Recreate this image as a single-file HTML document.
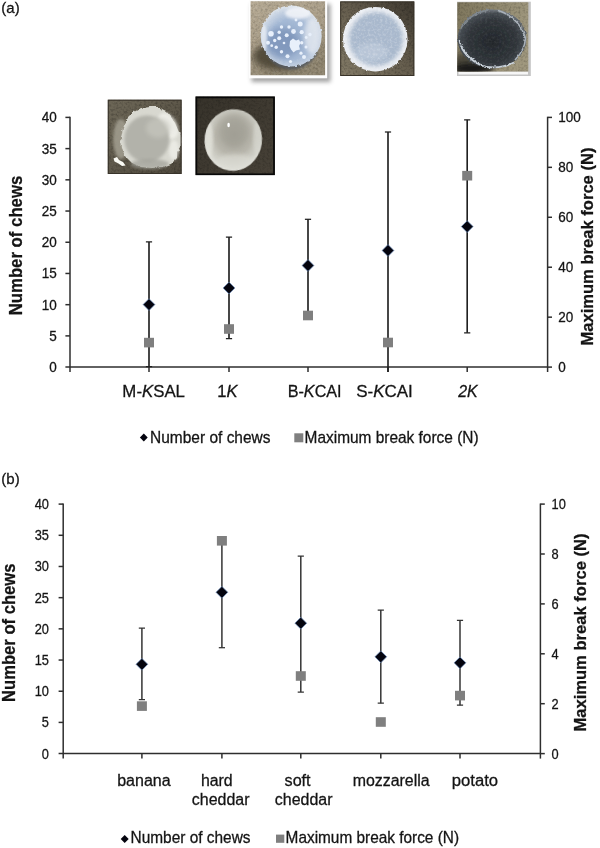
<!DOCTYPE html>
<html><head><meta charset="utf-8"><title>Figure</title>
<style>html,body{margin:0;padding:0;background:#fff;}body{width:600px;height:848px;overflow:hidden;font-family:"Liberation Sans",sans-serif;}svg{display:block;}text{font-family:"Liberation Sans",sans-serif;fill:#141414;stroke:#141414;stroke-width:0.28px;}svg{-webkit-font-smoothing:antialiased;}</style></head><body>
<svg width="600" height="848" viewBox="0 0 600 848">
<defs>
<filter id="b05" x="-10%" y="-10%" width="120%" height="120%"><feGaussianBlur stdDeviation="0.5"/></filter>
<filter id="b1" x="-10%" y="-10%" width="120%" height="120%"><feGaussianBlur stdDeviation="1"/></filter>
<filter id="b15" x="-20%" y="-20%" width="140%" height="140%"><feGaussianBlur stdDeviation="1.5"/></filter>
<filter id="b2" x="-20%" y="-20%" width="140%" height="140%"><feGaussianBlur stdDeviation="2"/></filter>
<filter id="b3" x="-30%" y="-30%" width="160%" height="160%"><feGaussianBlur stdDeviation="3"/></filter>
<filter id="b4" x="-30%" y="-30%" width="160%" height="160%"><feGaussianBlur stdDeviation="4"/></filter>
<clipPath id="c1"><rect x="107.8" y="99.7" width="73.8" height="74.3"/></clipPath>
<clipPath id="c2"><rect x="195.6" y="96.6" width="79.2" height="78.5"/></clipPath>
<clipPath id="c3"><rect x="250.6" y="1.3" width="74.5" height="74"/></clipPath>
<clipPath id="c4"><rect x="340.2" y="1.4" width="74.1" height="74.6"/></clipPath>
<clipPath id="c5"><rect x="457.3" y="2.2" width="71" height="69.3"/></clipPath>
<radialGradient id="g1" cx="0.47" cy="0.53" r="0.55"><stop offset="0" stop-color="#b0b0a8"/><stop offset="0.6" stop-color="#b8b8b0"/><stop offset="0.8" stop-color="#d4d4cc"/><stop offset="1" stop-color="#ecece6"/></radialGradient>
<linearGradient id="bg1" x1="0" y1="0" x2="1" y2="1"><stop offset="0" stop-color="#6e6858"/><stop offset="0.5" stop-color="#5e584a"/><stop offset="1" stop-color="#4e483c"/></linearGradient>
<radialGradient id="g2" cx="0.5" cy="0.42" r="0.58"><stop offset="0" stop-color="#aaa89e"/><stop offset="0.55" stop-color="#b8b6ac"/><stop offset="0.82" stop-color="#d0d0c8"/><stop offset="1" stop-color="#e6e6e0"/></radialGradient>
<linearGradient id="bg2" x1="0" y1="0" x2="1" y2="1"><stop offset="0" stop-color="#36322a"/><stop offset="1" stop-color="#484238"/></linearGradient>
<radialGradient id="g3" cx="0.5" cy="0.55" r="0.55"><stop offset="0" stop-color="#9ab0ce"/><stop offset="0.6" stop-color="#a6bad6"/><stop offset="0.85" stop-color="#c6d2e2"/><stop offset="1" stop-color="#dfe5ec"/></radialGradient>
<linearGradient id="bg3" x1="0" y1="0" x2="0.4" y2="1"><stop offset="0" stop-color="#b6aa94"/><stop offset="0.55" stop-color="#a89c86"/><stop offset="1" stop-color="#8e846e"/></linearGradient>
<radialGradient id="g4" cx="0.5" cy="0.45" r="0.55"><stop offset="0" stop-color="#a6b6ca"/><stop offset="0.55" stop-color="#b0bfd2"/><stop offset="0.8" stop-color="#d2dbe6"/><stop offset="1" stop-color="#eef1f5"/></radialGradient>
<linearGradient id="bg4" x1="0" y1="1" x2="1" y2="0"><stop offset="0" stop-color="#847c68"/><stop offset="0.5" stop-color="#665e4e"/><stop offset="1" stop-color="#3e382f"/></linearGradient>
<radialGradient id="g5" cx="0.5" cy="0.55" r="0.55"><stop offset="0" stop-color="#23272b"/><stop offset="0.65" stop-color="#30353a"/><stop offset="0.88" stop-color="#454b51"/><stop offset="1" stop-color="#7a8086"/></radialGradient>
<linearGradient id="bg5" x1="0" y1="0" x2="1" y2="0.3"><stop offset="0" stop-color="#7e765c"/><stop offset="1" stop-color="#a0987e"/></linearGradient>
<filter id="rough" x="-10%" y="-10%" width="120%" height="120%"><feTurbulence type="fractalNoise" baseFrequency="0.22" numOctaves="2" seed="3" result="n"/><feDisplacementMap in="SourceGraphic" in2="n" scale="4.5" xChannelSelector="R" yChannelSelector="G"/><feGaussianBlur stdDeviation="0.6"/></filter>
<filter id="rough2" x="-10%" y="-10%" width="120%" height="120%"><feTurbulence type="fractalNoise" baseFrequency="0.35" numOctaves="2" seed="8" result="n"/><feDisplacementMap in="SourceGraphic" in2="n" scale="3" xChannelSelector="R" yChannelSelector="G"/><feGaussianBlur stdDeviation="0.55"/></filter>
<filter id="noise" x="0" y="0" width="100%" height="100%"><feTurbulence type="fractalNoise" baseFrequency="0.37" numOctaves="2" seed="5"/><feColorMatrix type="matrix" values="0 0 0 0 0.5  0 0 0 0 0.5  0 0 0 0 0.5  1.6 0 0 0 -0.55"/><feGaussianBlur stdDeviation="0.4"/></filter>
<filter id="noisew" x="0" y="0" width="100%" height="100%"><feTurbulence type="fractalNoise" baseFrequency="0.41" numOctaves="2" seed="11"/><feColorMatrix type="matrix" values="0 0 0 0 1  0 0 0 0 1  0 0 0 0 1  0 2.2 0 0 -0.95"/><feGaussianBlur stdDeviation="0.4"/></filter>
<filter id="noised" x="0" y="0" width="100%" height="100%"><feTurbulence type="fractalNoise" baseFrequency="0.43" numOctaves="2" seed="21"/><feColorMatrix type="matrix" values="0 0 0 0 0  0 0 0 0 0  0 0 0 0 0  0 0 2.2 0 -0.95"/><feGaussianBlur stdDeviation="0.4"/></filter>
<clipPath id="d3"><circle cx="291.2" cy="36" r="30.3"/></clipPath>
<clipPath id="d4"><circle cx="375.6" cy="39.6" r="32"/></clipPath>
<clipPath id="d5"><ellipse cx="492" cy="38.8" rx="34.2" ry="29.4"/></clipPath>
<clipPath id="d2"><ellipse cx="233.3" cy="140" rx="28.7" ry="30.8" transform="rotate(8 233.3 140)"/></clipPath>
</defs>

<rect width="600" height="848" fill="#fff"/>
<!-- photo 3 (top, white frame + shadow) -->
<rect x="251.5" y="4" width="79" height="78" fill="#6a6a6a" opacity="0.62" filter="url(#b2)"/>
<rect x="248.9" y="-2" width="78.3" height="80.3" fill="#fdfdfd"/>
<g clip-path="url(#c3)">
<rect x="250" y="0" width="76" height="76" fill="url(#bg3)"/>
<rect x="250" y="0" width="76" height="75" filter="url(#noised)" opacity="0.18"/>
<rect x="250" y="0" width="76" height="75" filter="url(#noisew)" opacity="0.15"/>
<ellipse cx="280" cy="56" rx="27" ry="14" fill="#4c4436" opacity="0.9" filter="url(#b3)"/>
<path d="M264 48 Q270 68 291 69.5 Q310 69 319 50 Q300 66 264 48Z" fill="#565c64" opacity="0.85" filter="url(#b1)"/>
<circle cx="291.2" cy="36" r="30.5" fill="url(#g3)" filter="url(#rough2)"/>
<g clip-path="url(#d3)">
<ellipse cx="282" cy="43" rx="17" ry="15" fill="#6f88b0" opacity="0.62" filter="url(#b3)"/>
<ellipse cx="312" cy="36" rx="8" ry="18" fill="#e8ecf2" opacity="0.75" filter="url(#b2)"/>
<ellipse cx="298" cy="13" rx="13" ry="6" fill="#f4f6fa" opacity="0.85" filter="url(#b15)"/>
<ellipse cx="264" cy="38" rx="3" ry="13" fill="#eef2f8" opacity="0.7" filter="url(#b1)"/>
<g fill="#e8f0fb" filter="url(#b05)">
<path d="M290 41 L293 38.5 L296 40.5 L299 39.5 L300.5 43 L299 46 L300 49.5 L296 50.5 L293.5 52.5 L291 49.5 L289.5 46 Z"/>
<circle cx="300.2" cy="24" r="2.5"/><circle cx="293.5" cy="31.5" r="2.4"/><circle cx="301.7" cy="32.2" r="2.1"/><circle cx="289" cy="27" r="1.7"/>
<circle cx="281.5" cy="27" r="1.7"/><circle cx="271" cy="33.7" r="2.8"/><circle cx="279.2" cy="32.2" r="1.7"/><circle cx="286.7" cy="35.2" r="2"/>
<circle cx="279.2" cy="38.2" r="2"/><circle cx="274.7" cy="40.5" r="1.7"/><circle cx="268" cy="42.7" r="2"/><circle cx="271.7" cy="45.7" r="1.4"/>
<circle cx="276.2" cy="47.2" r="1.7"/><circle cx="281.5" cy="51.7" r="1.7"/><circle cx="287.5" cy="56.2" r="2"/><circle cx="301.7" cy="42.7" r="1.7"/>
<circle cx="304" cy="57" r="2"/><circle cx="301" cy="53.2" r="1.6"/><circle cx="290.5" cy="61.5" r="1.6"/><circle cx="310" cy="34.5" r="1.7"/><circle cx="306.2" cy="37.5" r="1.4"/>
<circle cx="284" cy="43" r="1.3"/><circle cx="296" cy="20" r="1.4"/><circle cx="306" cy="47" r="1.5"/>
</g>
</g>
</g>
<!-- photo 4 -->
<g clip-path="url(#c4)">
<rect x="340" y="1" width="75" height="76" fill="url(#bg4)"/>
<rect x="340" y="1" width="75" height="76" filter="url(#noised)" opacity="0.25"/>
<circle cx="375.3" cy="39.2" r="32.3" fill="#eceff4" filter="url(#rough2)"/>
<circle cx="376" cy="39" r="27" fill="#a9b9ce" filter="url(#b2)"/>
<ellipse cx="372" cy="52" rx="16" ry="9" fill="#c4d0e0" opacity="0.6" filter="url(#b2)"/>
<g clip-path="url(#d4)"><rect x="340" y="1" width="75" height="76" filter="url(#noisew)" opacity="0.3"/><rect x="340" y="1" width="75" height="76" filter="url(#noise)" opacity="0.1"/></g>
</g>
<rect x="340.7" y="1.9" width="73.1" height="73.6" fill="none" stroke="#383228" stroke-width="1"/>
<!-- photo 5 -->
<rect x="457" y="1.7" width="73.8" height="74.3" fill="#c4c4c4"/>
<rect x="458.5" y="71.5" width="69.5" height="3" fill="#f6f6f6"/>
<g clip-path="url(#c5)">
<rect x="457" y="2" width="72" height="70" fill="url(#bg5)"/>
<rect x="457" y="2" width="72" height="70" filter="url(#noised)" opacity="0.2"/>
<ellipse cx="468" cy="64" rx="16" ry="12" fill="#3e3a30" opacity="0.85" filter="url(#b3)"/>
<ellipse cx="474" cy="68.5" rx="20" ry="5" fill="#141416" opacity="0.9" filter="url(#b2)"/>
<ellipse cx="492" cy="38.8" rx="34.4" ry="29.6" fill="url(#g5)" filter="url(#rough2)"/>
<g clip-path="url(#d5)"><rect x="457" y="2" width="72" height="70" filter="url(#noisew)" opacity="0.08"/></g>
<path d="M459.5 40 Q462 57 484 66.5 Q500 69.5 514 62.5" fill="none" stroke="#c8d0d8" stroke-width="1.8" filter="url(#rough2)"/>
<path d="M498 10.5 Q519 17 525.5 38 Q525 50 515 60" fill="none" stroke="#a8b0b8" stroke-width="1.6" filter="url(#rough2)"/>
<path d="M460 30 Q468 14 488 10" fill="none" stroke="#80888e" stroke-width="1.3" filter="url(#rough2)"/>
</g>
<!-- photo 1 -->
<g clip-path="url(#c1)">
<rect x="107" y="99" width="76" height="76" fill="url(#bg1)"/>
<rect x="107" y="99" width="76" height="76" filter="url(#noised)" opacity="0.25"/>
<ellipse cx="121" cy="139" rx="8" ry="20" fill="#a09c8e" opacity="0.9" filter="url(#b15)"/>
<path d="M149 107 L158 107 L166 111 L171 117 L175 123 L178 130 L182 138 L181 146 L177 152 L177 158 L171 164 L162 167 L152 168 L141 167 L132 163 L126 157 L122 148 L121 138 L123 128 L127 119 L134 112 L141 108 Z" fill="#d8d8d0" filter="url(#rough)"/>
<ellipse cx="168" cy="126" rx="9" ry="14" transform="rotate(-30 168 126)" fill="#f2f2ec" opacity="0.8" filter="url(#b15)"/>
<ellipse cx="174" cy="150" rx="5" ry="10" fill="#f0f0ea" opacity="0.75" filter="url(#b15)"/>
<ellipse cx="146.8" cy="139" rx="22.5" ry="23.5" fill="#b2b2aa" filter="url(#b15)"/>
<ellipse cx="158" cy="128" rx="12" ry="10" fill="#c6c6be" opacity="0.7" filter="url(#b2)"/>
<ellipse cx="150" cy="164" rx="19" ry="5" fill="#a2a29a" opacity="0.75" filter="url(#b15)"/>
<path d="M113.5 158.5 L117 157 L119 160 L123 162 L125.5 165.5 L122 166 L118.5 163.5 L114.5 161.5 Z" fill="#fafaf4" filter="url(#b05)"/>
</g>
<rect x="108.3" y="100.2" width="72.8" height="73.3" fill="none" stroke="#38332a" stroke-width="1"/>
<!-- photo 2 -->
<g clip-path="url(#c2)">
<rect x="195" y="96" width="80" height="80" fill="url(#bg2)"/>
<rect x="195" y="96" width="80" height="80" filter="url(#noised)" opacity="0.2"/>
<ellipse cx="233.3" cy="140" rx="28.7" ry="30.8" transform="rotate(8 233.3 140)" fill="url(#g2)" filter="url(#b05)"/>
<g clip-path="url(#d2)">
<ellipse cx="235" cy="162" rx="18" ry="8" fill="#dcdcd4" opacity="0.65" filter="url(#b2)"/>
<ellipse cx="209" cy="140" rx="4" ry="18" fill="#e4e4dc" opacity="0.75" filter="url(#b15)"/>
<ellipse cx="257" cy="138" rx="4" ry="16" fill="#d8d8d0" opacity="0.6" filter="url(#b15)"/>
<ellipse cx="234" cy="132" rx="15" ry="16" fill="#98968c" opacity="0.5" filter="url(#b3)"/>
</g>
<ellipse cx="228.6" cy="125" rx="1.3" ry="2.3" fill="#fff" filter="url(#b05)"/>
</g>
<rect x="196.4" y="97.4" width="77.6" height="76.9" fill="none" stroke="#080808" stroke-width="1.7"/>

<g opacity="0.999">
<g stroke="#2e2e2e" stroke-width="1.5" fill="none">
<path d="M70 116.80000000000001V372.1"/>
<path d="M547.6 116.80000000000001V372.1"/>
<path d="M65.4 367.1H547.6"/>
<path d="M65.4 335.89H70"/>
<path d="M65.4 304.68H70"/>
<path d="M65.4 273.46H70"/>
<path d="M65.4 242.25H70"/>
<path d="M65.4 211.04H70"/>
<path d="M65.4 179.83H70"/>
<path d="M65.4 148.61H70"/>
<path d="M65.4 117.40H70"/>
<path d="M547.6 367.10H552.0"/>
<path d="M547.6 317.16H552.0"/>
<path d="M547.6 267.22H552.0"/>
<path d="M547.6 217.28H552.0"/>
<path d="M547.6 167.34H552.0"/>
<path d="M547.6 117.40H552.0"/>
<path d="M149.00 367.1V372.1"/>
<path d="M229.00 367.1V372.1"/>
<path d="M308.00 367.1V372.1"/>
<path d="M388.00 367.1V372.1"/>
<path d="M467.20 367.1V372.1"/>
</g>
<text transform="translate(56.8 372.10) scale(0.965 1)" font-size="14" text-anchor="end">0</text>
<text transform="translate(56.8 340.89) scale(0.965 1)" font-size="14" text-anchor="end">5</text>
<text transform="translate(56.8 309.68) scale(0.965 1)" font-size="14" text-anchor="end">10</text>
<text transform="translate(56.8 278.46) scale(0.965 1)" font-size="14" text-anchor="end">15</text>
<text transform="translate(56.8 247.25) scale(0.965 1)" font-size="14" text-anchor="end">20</text>
<text transform="translate(56.8 216.04) scale(0.965 1)" font-size="14" text-anchor="end">25</text>
<text transform="translate(56.8 184.83) scale(0.965 1)" font-size="14" text-anchor="end">30</text>
<text transform="translate(56.8 153.61) scale(0.965 1)" font-size="14" text-anchor="end">35</text>
<text transform="translate(56.8 122.40) scale(0.965 1)" font-size="14" text-anchor="end">40</text>
<text transform="translate(558.2 372.10) scale(0.965 1)" font-size="14">0</text>
<text transform="translate(558.2 322.16) scale(0.965 1)" font-size="14">20</text>
<text transform="translate(558.2 272.22) scale(0.965 1)" font-size="14">40</text>
<text transform="translate(558.2 222.28) scale(0.965 1)" font-size="14">60</text>
<text transform="translate(558.2 172.34) scale(0.965 1)" font-size="14">80</text>
<text transform="translate(558.2 122.40) scale(0.965 1)" font-size="14">100</text>
<path d="M149 241.9V366.6" stroke="#202020" stroke-width="1.65" fill="none"/>
<path d="M145.9 241.9H152.1M145.9 366.6H152.1" stroke="#202020" stroke-width="1.25" fill="none"/>
<path d="M229 237V338.5" stroke="#202020" stroke-width="1.65" fill="none"/>
<path d="M225.9 237H232.1M225.9 338.5H232.1" stroke="#202020" stroke-width="1.25" fill="none"/>
<path d="M308 219.3V317" stroke="#202020" stroke-width="1.65" fill="none"/>
<path d="M304.9 219.3H311.1" stroke="#202020" stroke-width="1.25" fill="none"/>
<path d="M388 132V372" stroke="#202020" stroke-width="1.65" fill="none"/>
<path d="M384.9 132H391.1" stroke="#202020" stroke-width="1.25" fill="none"/>
<path d="M467.2 119.8V332.8" stroke="#202020" stroke-width="1.65" fill="none"/>
<path d="M464.09999999999997 119.8H470.3M464.09999999999997 332.8H470.3" stroke="#202020" stroke-width="1.25" fill="none"/>
<rect x="144" y="337.8" width="10" height="9.6" fill="#7f7f7f"/>
<path d="M149 298.70000000000005L154.9 304.6L149 310.5L143.1 304.6Z" fill="#04040e" stroke="#6f8fbf" stroke-width="0.7"/>
<rect x="224" y="324.2" width="10" height="9.6" fill="#7f7f7f"/>
<path d="M229 282.1L234.9 288L229 293.9L223.1 288Z" fill="#04040e" stroke="#6f8fbf" stroke-width="0.7"/>
<rect x="303" y="310.7" width="10" height="9.6" fill="#7f7f7f"/>
<path d="M308 259.6L313.9 265.5L308 271.4L302.1 265.5Z" fill="#04040e" stroke="#6f8fbf" stroke-width="0.7"/>
<rect x="383" y="337.7" width="10" height="9.6" fill="#7f7f7f"/>
<path d="M388 244.6L393.9 250.5L388 256.4L382.1 250.5Z" fill="#04040e" stroke="#6f8fbf" stroke-width="0.7"/>
<rect x="462.2" y="170.89999999999998" width="10" height="9.6" fill="#7f7f7f"/>
<path d="M467.2 220.7L473.09999999999997 226.6L467.2 232.5L461.3 226.6Z" fill="#04040e" stroke="#6f8fbf" stroke-width="0.7"/>
<text x="122.38" y="397.30" font-size="16.5" font-weight="normal" textLength="62.60" lengthAdjust="spacingAndGlyphs">M-<tspan font-style="italic">K</tspan>SAL</text>
<text x="217.28" y="397.30" font-size="16.5" font-weight="normal" textLength="20.23" lengthAdjust="spacingAndGlyphs">1<tspan font-style="italic">K</tspan></text>
<text x="287.65" y="397.30" font-size="16.5" font-weight="normal" textLength="53.98" lengthAdjust="spacingAndGlyphs">B-<tspan font-style="italic">K</tspan>CAI</text>
<text x="356.21" y="397.30" font-size="16.5" font-weight="normal" textLength="56.63" lengthAdjust="spacingAndGlyphs">S-<tspan font-style="italic">K</tspan>CAI</text>
<text x="458.24" y="397.30" font-size="16.5" font-weight="normal" textLength="19.41" lengthAdjust="spacingAndGlyphs"><tspan font-style="italic">2K</tspan></text>
<text transform="translate(22.20 315.35) rotate(-90)" font-size="18" font-weight="bold" textLength="139.64" lengthAdjust="spacingAndGlyphs" fill="#000" stroke="#000" stroke-width="0.2">Number of chews</text>
<text transform="translate(593.30 345.61) rotate(-90)" font-size="17" font-weight="bold" textLength="198.06" lengthAdjust="spacingAndGlyphs" fill="#000" stroke="#000" stroke-width="0.2">Maximum break force (N)</text>
<text x="1.3" y="13" font-size="15">(a)</text>
<path d="M143.8 433.6L147.7 437.5L143.8 441.4L139.9 437.5Z" fill="#04040e"/>
<text x="150.08" y="443.20" font-size="15.7" font-weight="normal" textLength="120.43" lengthAdjust="spacingAndGlyphs">Number of chews</text>
<rect x="294.3" y="433.3" width="9" height="9" fill="#7f7f7f"/>
<text x="304.59" y="443.20" font-size="15.7" font-weight="normal" textLength="173.98" lengthAdjust="spacingAndGlyphs">Maximum break force (N)</text>
<g stroke="#2e2e2e" stroke-width="1.5" fill="none">
<path d="M63.2 503.5V758.6"/>
<path d="M540.4 503.5V758.6"/>
<path d="M58.6 753.6H540.4"/>
<path d="M58.6 722.41H63.2"/>
<path d="M58.6 691.23H63.2"/>
<path d="M58.6 660.04H63.2"/>
<path d="M58.6 628.85H63.2"/>
<path d="M58.6 597.66H63.2"/>
<path d="M58.6 566.48H63.2"/>
<path d="M58.6 535.29H63.2"/>
<path d="M58.6 504.10H63.2"/>
<path d="M540.4 753.60H544.8"/>
<path d="M540.4 703.70H544.8"/>
<path d="M540.4 653.80H544.8"/>
<path d="M540.4 603.90H544.8"/>
<path d="M540.4 554.00H544.8"/>
<path d="M540.4 504.10H544.8"/>
<path d="M141.90 753.6V758.6"/>
<path d="M221.90 753.6V758.6"/>
<path d="M300.80 753.6V758.6"/>
<path d="M380.80 753.6V758.6"/>
<path d="M460.00 753.6V758.6"/>
</g>
<text transform="translate(49.0 758.60) scale(0.915 1)" font-size="14" text-anchor="end">0</text>
<text transform="translate(49.0 727.41) scale(0.915 1)" font-size="14" text-anchor="end">5</text>
<text transform="translate(49.0 696.23) scale(0.915 1)" font-size="14" text-anchor="end">10</text>
<text transform="translate(49.0 665.04) scale(0.915 1)" font-size="14" text-anchor="end">15</text>
<text transform="translate(49.0 633.85) scale(0.915 1)" font-size="14" text-anchor="end">20</text>
<text transform="translate(49.0 602.66) scale(0.915 1)" font-size="14" text-anchor="end">25</text>
<text transform="translate(49.0 571.48) scale(0.915 1)" font-size="14" text-anchor="end">30</text>
<text transform="translate(49.0 540.29) scale(0.915 1)" font-size="14" text-anchor="end">35</text>
<text transform="translate(49.0 509.10) scale(0.915 1)" font-size="14" text-anchor="end">40</text>
<text transform="translate(551.6 758.60) scale(0.915 1)" font-size="14">0</text>
<text transform="translate(551.6 708.70) scale(0.915 1)" font-size="14">2</text>
<text transform="translate(551.6 658.80) scale(0.915 1)" font-size="14">4</text>
<text transform="translate(551.6 608.90) scale(0.915 1)" font-size="14">6</text>
<text transform="translate(551.6 559.00) scale(0.915 1)" font-size="14">8</text>
<text transform="translate(551.6 509.10) scale(0.915 1)" font-size="14">10</text>
<path d="M141.9 628V699.5" stroke="#343434" stroke-width="1.5" fill="none"/>
<path d="M138.8 628H145.0M138.8 699.5H145.0" stroke="#343434" stroke-width="1.25" fill="none"/>
<path d="M221.9 541V647.7" stroke="#343434" stroke-width="1.5" fill="none"/>
<path d="M218.8 647.7H225.0" stroke="#343434" stroke-width="1.25" fill="none"/>
<path d="M300.8 556V692" stroke="#343434" stroke-width="1.5" fill="none"/>
<path d="M297.7 556H303.90000000000003M297.7 692H303.90000000000003" stroke="#343434" stroke-width="1.25" fill="none"/>
<path d="M380.8 610V703.2" stroke="#343434" stroke-width="1.5" fill="none"/>
<path d="M377.7 610H383.90000000000003M377.7 703.2H383.90000000000003" stroke="#343434" stroke-width="1.25" fill="none"/>
<path d="M460 620.4V705.2" stroke="#343434" stroke-width="1.5" fill="none"/>
<path d="M456.9 620.4H463.1M456.9 705.2H463.1" stroke="#343434" stroke-width="1.25" fill="none"/>
<rect x="136.9" y="701.3000000000001" width="10" height="9.6" fill="#7f7f7f"/>
<path d="M141.9 658.4L147.8 664.3L141.9 670.1999999999999L136.0 664.3Z" fill="#04040e" stroke="#6f8fbf" stroke-width="0.7"/>
<rect x="216.9" y="536.0" width="10" height="9.6" fill="#7f7f7f"/>
<path d="M221.9 586.4L227.8 592.3L221.9 598.1999999999999L216.0 592.3Z" fill="#04040e" stroke="#6f8fbf" stroke-width="0.7"/>
<rect x="295.8" y="671.2" width="10" height="9.6" fill="#7f7f7f"/>
<path d="M300.8 617.3000000000001L306.7 623.2L300.8 629.1L294.90000000000003 623.2Z" fill="#04040e" stroke="#6f8fbf" stroke-width="0.7"/>
<rect x="375.8" y="717.2" width="10" height="9.6" fill="#7f7f7f"/>
<path d="M380.8 650.9L386.7 656.8L380.8 662.6999999999999L374.90000000000003 656.8Z" fill="#04040e" stroke="#6f8fbf" stroke-width="0.7"/>
<rect x="455" y="690.8000000000001" width="10" height="9.6" fill="#7f7f7f"/>
<path d="M460 656.9L465.9 662.8L460 668.6999999999999L454.1 662.8Z" fill="#04040e" stroke="#6f8fbf" stroke-width="0.7"/>
<text x="117.15" y="786.00" font-size="16" font-weight="normal" textLength="53.48" lengthAdjust="spacingAndGlyphs">banana</text>
<text x="200.89" y="786.00" font-size="16" font-weight="normal" textLength="31.77" lengthAdjust="spacingAndGlyphs">hard</text>
<text x="191.81" y="804.70" font-size="16" font-weight="normal" textLength="57.68" lengthAdjust="spacingAndGlyphs">cheddar</text>
<text x="284.55" y="786.00" font-size="16" font-weight="normal" textLength="26.06" lengthAdjust="spacingAndGlyphs">soft</text>
<text x="274.81" y="804.70" font-size="16" font-weight="normal" textLength="57.68" lengthAdjust="spacingAndGlyphs">cheddar</text>
<text x="352.66" y="786.00" font-size="16" font-weight="normal" textLength="76.99" lengthAdjust="spacingAndGlyphs">mozzarella</text>
<text x="451.87" y="786.00" font-size="16" font-weight="normal" textLength="46.26" lengthAdjust="spacingAndGlyphs">potato</text>
<text transform="translate(15.10 701.96) rotate(-90)" font-size="18" font-weight="bold" textLength="138.45" lengthAdjust="spacingAndGlyphs" fill="#000" stroke="#000" stroke-width="0.2">Number of chews</text>
<text transform="translate(586.40 731.60) rotate(-90)" font-size="17" font-weight="bold" textLength="198.09" lengthAdjust="spacingAndGlyphs" fill="#000" stroke="#000" stroke-width="0.2">Maximum break force (N)</text>
<text x="1.3" y="483.9" font-size="15">(b)</text>
<path d="M124.7 835L128.7 839L124.7 843L120.7 839Z" fill="#04040e"/>
<text x="130.56" y="843.30" font-size="15.7" font-weight="normal" textLength="119.98" lengthAdjust="spacingAndGlyphs">Number of chews</text>
<rect x="276" y="834.6" width="8.3" height="8.2" fill="#7f7f7f"/>
<text x="285.60" y="843.30" font-size="15.7" font-weight="normal" textLength="173.45" lengthAdjust="spacingAndGlyphs">Maximum break force (N)</text>
</g>
</svg></body></html>
